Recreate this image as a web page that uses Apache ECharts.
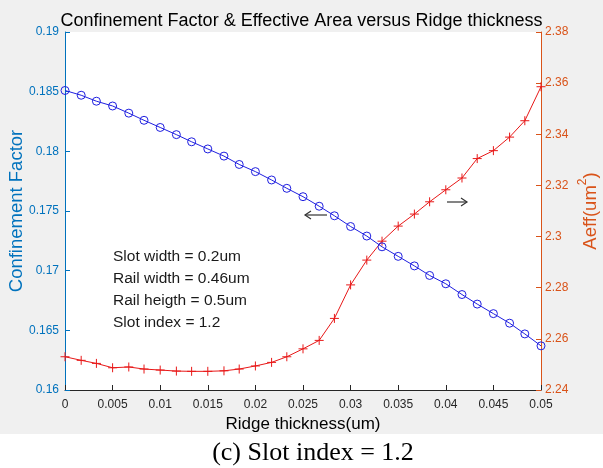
<!DOCTYPE html>
<html>
<head>
<meta charset="utf-8">
<script src="https://cdn.jsdelivr.net/npm/echarts@6/dist/echarts.min.js"></script>
<style>
  html, body { margin: 0; padding: 0; background: #fff; }
  #main { width: 603px; height: 468px; background: linear-gradient(#f0f0f0 0, #f0f0f0 434px, #fff 434px); }
</style>
</head>
<body>
<div id="main"></div>
<script>
// ridge thickness (um), 31 samples
const ridge = [0, 0.0017, 0.0033, 0.005, 0.0067, 0.0083, 0.01, 0.0117, 0.0133, 0.015,
  0.0167, 0.0183, 0.02, 0.0217, 0.0233, 0.025, 0.0267, 0.0283, 0.03, 0.0317,
  0.0333, 0.035, 0.0367, 0.0383, 0.04, 0.0417, 0.0433, 0.045, 0.0467, 0.0483, 0.05];

const confinement = [0.1851, 0.1847, 0.1842, 0.1838, 0.1832, 0.1826, 0.1820, 0.1814, 0.1808, 0.1802,
  0.1796, 0.1789, 0.1783, 0.1776, 0.1769, 0.1762, 0.1754, 0.1746, 0.1737, 0.1729,
  0.1720, 0.1712, 0.1704, 0.1696, 0.1689, 0.1680, 0.1672, 0.1664, 0.1656, 0.1647, 0.1637];

const aeff = [2.2530, 2.2516, 2.2504, 2.2487, 2.2490, 2.2482, 2.2478, 2.2474, 2.2473, 2.2473,
  2.2475, 2.2482, 2.2494, 2.2508, 2.2530, 2.2561, 2.2594, 2.2680, 2.2811, 2.2908,
  2.2982, 2.3041, 2.3088, 2.3136, 2.3183, 2.3229, 2.3305, 2.3336, 2.3389, 2.3453, 2.3586];

const notes = ['Slot width = 0.2um', 'Rail width = 0.46um', 'Rail heigth = 0.5um', 'Slot index = 1.2'];

const BLUE_AX = '#0072BD';
const ORANGE_AX = '#D95319';
const GREY = '#262626';
const FONT = '"Liberation Sans", Arial, Helvetica, sans-serif';

const chart = echarts.init(document.getElementById('main'));

function fmt(v) { return String(parseFloat(v.toFixed(4))); }

// small arrow drawn with two polylines (shaft + head)
function arrow(x0, x1, y, dir) {
  const tip = dir < 0 ? x0 : x1;
  return {
    type: 'group',
    children: [
      { type: 'line', shape: { x1: x0, y1: y, x2: x1, y2: y }, style: { stroke: '#333', lineWidth: 1.2 } },
      { type: 'polyline', shape: { points: [[tip - dir * 6, y - 4], [tip, y], [tip - dir * 6, y + 4]] },
        style: { stroke: '#333', lineWidth: 1.2, fill: null } }
    ]
  };
}

const option = {
  animation: false,
  textStyle: { fontFamily: FONT },
  title: {
    text: 'Confinement Factor & Effective Area versus Ridge thickness',
    left: 'center',
    top: 7,
    textStyle: { fontSize: 18, fontWeight: 'normal', color: '#000', fontFamily: FONT }
  },
  grid: {
    left: 65, right: 62, top: 32, bottom: 78,
    show: true, backgroundColor: '#fff', borderWidth: 0,
    outerBoundsMode: 'none'
  },
  xAxis: {
    type: 'value',
    min: 0, max: 0.05, interval: 0.005,
    name: 'Ridge thickness(um)',
    nameLocation: 'middle',
    nameGap: 26,
    nameMoveOverlap: false,
    nameTextStyle: { fontSize: 17, color: '#000', fontFamily: FONT },
    axisLine: { lineStyle: { color: GREY, width: 1 } },
    axisTick: { inside: true, length: 5, lineStyle: { color: GREY } },
    axisLabel: { fontSize: 12, color: GREY, margin: 9, formatter: fmt },
    splitLine: { show: false }
  },
  yAxis: [
    {
      type: 'value',
      position: 'left',
      min: 0.16, max: 0.19, interval: 0.005,
      name: 'Confinement Factor',
      nameLocation: 'middle',
      nameRotate: 90,
      nameGap: 39,
      nameMoveOverlap: false,
      nameTextStyle: { fontSize: 18.5, color: BLUE_AX, fontFamily: FONT },
      axisLine: { show: true, lineStyle: { color: BLUE_AX, width: 1 } },
      axisTick: { show: true, inside: true, length: 5, lineStyle: { color: BLUE_AX } },
      axisLabel: { fontSize: 12, color: BLUE_AX, margin: 6, formatter: fmt },
      splitLine: { show: false }
    },
    {
      type: 'value',
      position: 'right',
      min: 2.24, max: 2.38, interval: 0.02,
      name: 'Aeff(um{sup|2})',
      nameLocation: 'middle',
      nameRotate: 90,
      nameGap: 36,
      nameMoveOverlap: false,
      nameTextStyle: {
        fontSize: 18.5, color: ORANGE_AX, fontFamily: FONT, lineHeight: 28,
        rich: { sup: { fontSize: 12, color: ORANGE_AX, verticalAlign: 'top', lineHeight: 12, fontFamily: FONT } }
      },
      axisLine: { show: true, lineStyle: { color: ORANGE_AX, width: 1 } },
      axisTick: { show: true, inside: true, length: 5, lineStyle: { color: ORANGE_AX } },
      axisLabel: { fontSize: 12, color: ORANGE_AX, margin: 4, formatter: fmt },
      splitLine: { show: false }
    }
  ],
  series: [
    {
      type: 'line',
      yAxisIndex: 0,
      data: ridge.map((x, i) => [x, confinement[i]]),
      symbol: 'circle',
      symbolSize: 8,
      clip: false,
      lineStyle: { color: '#1f1fe0', width: 1 },
      itemStyle: { color: 'rgba(0,0,0,0)', borderColor: '#1f1fe0', borderWidth: 1 },
      z: 3
    },
    {
      type: 'line',
      yAxisIndex: 1,
      data: ridge.map((x, i) => [x, aeff[i]]),
      symbol: 'path://M0,5 L10,5 M5,0 L5,10',
      symbolSize: 9,
      clip: false,
      lineStyle: { color: '#e81818', width: 1 },
      itemStyle: { color: '#e81818', borderColor: '#e81818', borderWidth: 1 },
      z: 2
    }
  ],
  graphic: [
    arrow(305, 327, 215, -1),
    arrow(447, 467, 202, 1),
    {
      type: 'text', left: 113, top: 246,
      style: { text: notes.join('\n'), fontSize: 15.5, lineHeight: 22, fill: '#1a1a1a', fontFamily: FONT }
    },
    {
      type: 'text', x: 313, y: 440,
      style: { text: '(c) Slot index = 1.2', fontSize: 26, fill: '#000', textAlign: 'center',
        fontFamily: '"Liberation Serif", "Times New Roman", serif' }
    }
  ]
};

chart.setOption(option);
</script>
</body>
</html>
